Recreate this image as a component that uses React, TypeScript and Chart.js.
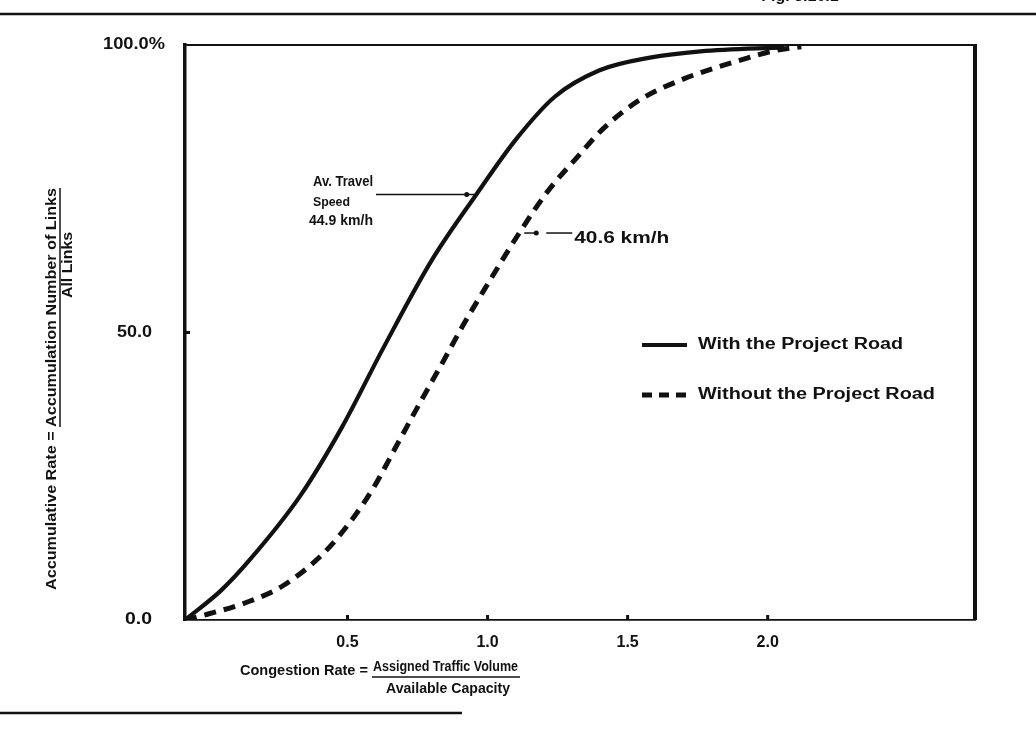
import React, { useEffect, useRef } from "react";
import { Chart, registerables } from "chart.js";

Chart.register(...registerables);

// ---- data ----
const withRoadX = [-0.08, 0.05, 0.15, 0.33, 0.48, 0.63, 0.8, 0.96, 1.1, 1.24, 1.4, 1.58, 1.76, 2.06];
const withRoadY = [0, 5.2, 10.4, 21.5, 33.5, 47.5, 62.5, 74, 83.5, 91, 95.6, 97.8, 98.9, 99.6];

const withoutRoadX = [-0.08, 0.0, 0.136, 0.271, 0.414, 0.509, 0.593, 0.675, 0.759, 0.842, 0.912, 0.999, 1.117, 1.214, 1.322, 1.414, 1.545, 1.7, 1.878, 2.023, 2.12];
const withoutRoadY = [0, 1.0, 3.0, 6.0, 11.6, 17.0, 23.0, 30.3, 37.8, 45.0, 51.2, 58.3, 67.6, 74.5, 80.6, 85.5, 90.5, 94.1, 97.0, 99.0, 99.7];

const seriesNames = ["With the Project Road", "Without the Project Road"];

const xMin = -0.08;
const xMax = 2.74;
const xTickValues = [0.5, 1.0, 1.5, 2.0];
const xTickLabels = ["0.5", "1.0", "1.5", "2.0"];
const yTickValues = [0, 50, 100];
const yTickLabels = ["0.0", "50.0", "100.0%"];

const speedCaption = ["Av. Travel", "Speed"];
const speedLabels = ["44.9 km/h", "40.6 km/h"];
const speedAnchorX = [0.965, 1.131];
const speedAnchorY = [74, 67.3];

const yTitleLeft = "Accumulative Rate = ";
const yTitleNum = "Accumulation Number of Links";
const yTitleDen = "All Links";
const xTitleLeft = "Congestion Rate = ";
const xTitleNum = "Assigned Traffic Volume";
const xTitleDen = "Available Capacity";
const figCaption = "Fig. 3.10.1";

const INK = "#111";
const FONT = '"Liberation Sans", Arial, "DejaVu Sans", sans-serif';

function setFont(ctx: CanvasRenderingContext2D, size: number, weight = "bold") {
  ctx.font = `${weight} ${size}px ${FONT}`;
}

function drawText(
  ctx: CanvasRenderingContext2D,
  text: string,
  x: number,
  y: number,
  size: number,
  align: "left" | "center" | "right",
  targetW?: number
) {
  ctx.save();
  setFont(ctx, size);
  ctx.textBaseline = "middle";
  ctx.textAlign = "left";
  const w = ctx.measureText(text).width;
  const sx = targetW ? targetW / w : 1;
  const left = align === "left" ? x : align === "center" ? x - (w * sx) / 2 : x - w * sx;
  ctx.translate(left, y);
  ctx.scale(sx, 1);
  ctx.fillStyle = INK;
  ctx.fillText(text, 0, 0);
  ctx.restore();
  return { left, width: w * sx };
}

function line(ctx: CanvasRenderingContext2D, x1: number, y1: number, x2: number, y2: number, w: number, dash: number[] = []) {
  ctx.save();
  ctx.strokeStyle = INK;
  ctx.lineWidth = w;
  ctx.setLineDash(dash);
  ctx.beginPath();
  ctx.moveTo(x1, y1);
  ctx.lineTo(x2, y2);
  ctx.stroke();
  ctx.restore();
}

function dot(ctx: CanvasRenderingContext2D, x: number, y: number, r: number) {
  ctx.save();
  ctx.fillStyle = INK;
  ctx.beginPath();
  ctx.arc(x, y, r, 0, Math.PI * 2);
  ctx.fill();
  ctx.restore();
}

const decorPlugin = {
  id: "decor",
  afterDraw(chart: any) {
    const ctx: CanvasRenderingContext2D = chart.ctx;
    const area = chart.chartArea;
    const sx = chart.scales.x;
    const sy = chart.scales.y;

    // header / footer rules of the scanned page
    line(ctx, 0, 14, 1036, 14, 2.6);
    drawText(ctx, figCaption, 800, -3, 16, "center");
    line(ctx, 0, 713, 462, 713, 2.6);

    // frame: top and right
    line(ctx, area.left, area.top, area.right + 2, area.top, 1.8);
    line(ctx, area.right, area.top, area.right, area.bottom, 4);

    // inner tick marks
    xTickValues.forEach((v) => {
      const px = sx.getPixelForValue(v);
      line(ctx, px, area.bottom, px, area.bottom - 5, 3);
    });
    yTickValues.forEach((v) => {
      if (v === 0 || v === 100) return;
      const py = sy.getPixelForValue(v);
      line(ctx, area.left, py, area.left + 5, py, 3);
    });

    // y tick labels
    yTickValues.forEach((v, i) => {
      const py = sy.getPixelForValue(v);
      if (i === yTickValues.length - 1) {
        drawText(ctx, yTickLabels[i], 103, py, 16, "left", 62);
      } else if (i === 0) {
        drawText(ctx, yTickLabels[i], 152, py, 16, "right", 27);
      } else {
        drawText(ctx, yTickLabels[i], 152, py, 16, "right", 35);
      }
    });

    // y title (rotated fraction)
    ctx.save();
    ctx.translate(52, 389);
    ctx.rotate(-Math.PI / 2);
    setFont(ctx, 14);
    const full = yTitleLeft + yTitleNum;
    const fw = ctx.measureText(full).width;
    const pw = ctx.measureText(yTitleLeft).width;
    const target = 402;
    const k = target / fw;
    drawText(ctx, full, 0, 0, 14, "center", target);
    line(ctx, -target / 2 + pw * k, 8, target / 2, 8, 1.5);
    ctx.restore();
    ctx.save();
    ctx.translate(68, 265);
    ctx.rotate(-Math.PI / 2);
    drawText(ctx, yTitleDen, 0, 0, 14, "center", 66);
    ctx.restore();

    // x title (fraction)
    drawText(ctx, xTitleLeft, 240, 671, 14, "left", 132);
    const num = drawText(ctx, xTitleNum, 373, 667, 14, "left", 145);
    line(ctx, num.left - 1, 677, num.left + num.width + 2, 677, 1.5);
    drawText(ctx, xTitleDen, 386, 689, 14, "left", 124);

    // legend
    line(ctx, 642, 345, 687, 345, 4);
    drawText(ctx, seriesNames[0], 698, 345, 16, "left", 205);
    line(ctx, 642, 395, 690, 395, 5, [10, 7]);
    drawText(ctx, seriesNames[1], 698, 395, 16, "left", 237);

    // speed annotations
    const a0x = sx.getPixelForValue(speedAnchorX[0]);
    const a0y = sy.getPixelForValue(speedAnchorY[0]);
    drawText(ctx, speedCaption[0], 313, a0y - 12, 14, "left", 60);
    drawText(ctx, speedCaption[1], 313, a0y + 8, 13, "left", 37);
    drawText(ctx, speedLabels[0], 309, a0y + 27, 14, "left", 64);
    line(ctx, 376, a0y, a0x, a0y, 1.5);
    dot(ctx, a0x - 11, a0y, 2.5);

    const a1x = sx.getPixelForValue(speedAnchorX[1]);
    const a1y = sy.getPixelForValue(speedAnchorY[1]);
    line(ctx, a1x, a1y, a1x + 13, a1y, 1.5);
    dot(ctx, a1x + 12, a1y, 2.5);
    line(ctx, a1x + 22, a1y, a1x + 48, a1y, 1.5);
    drawText(ctx, speedLabels[1], a1x + 50, a1y + 6, 16, "left", 95);
  },
};

export default function App() {
  const ref = useRef<HTMLCanvasElement | null>(null);

  useEffect(() => {
    if (!ref.current) return;
    const chart = new Chart(ref.current, {
      type: "line",
      data: {
        datasets: [
          {
            label: seriesNames[0],
            data: withRoadX.map((x, i) => ({ x, y: withRoadY[i] })),
            borderColor: INK,
            borderWidth: 4.2,
            pointRadius: 0,
            fill: false,
            cubicInterpolationMode: "monotone",
          },
          {
            label: seriesNames[1],
            data: withoutRoadX.map((x, i) => ({ x, y: withoutRoadY[i] })),
            borderColor: INK,
            borderWidth: 5,
            borderDash: [12, 8],
            pointRadius: 0,
            fill: false,
            cubicInterpolationMode: "monotone",
          },
        ],
      },
      options: {
        responsive: false,
        animation: false,
        devicePixelRatio: 1,
        layout: { padding: { left: 0, top: 45, right: 61, bottom: 0 } },
        plugins: { legend: { display: false }, tooltip: { enabled: false }, title: { display: false } },
        scales: {
          x: {
            type: "linear",
            min: xMin,
            max: xMax,
            afterBuildTicks: (s: any) => {
              s.ticks = xTickValues.map((v) => ({ value: v }));
            },
            afterFit: (s: any) => {
              s.height = 125;
            },
            ticks: {
              autoSkip: false,
              maxRotation: 0,
              padding: 13,
              color: INK,
              font: { family: FONT, weight: "bold", size: 16 },
              callback: (v: any) => {
                const i = xTickValues.indexOf(Number(v));
                return i >= 0 ? xTickLabels[i] : "";
              },
            },
            grid: { display: false, drawTicks: false },
            border: { display: true, color: INK, width: 1.8 },
          },
          y: {
            type: "linear",
            min: 0,
            max: 100,
            afterBuildTicks: (s: any) => {
              s.ticks = yTickValues.map((v) => ({ value: v }));
            },
            afterFit: (s: any) => {
              s.width = 185;
            },
            ticks: { display: false },
            grid: { display: false, drawTicks: false },
            border: { display: true, color: INK, width: 3.5 },
          },
        },
      },
      plugins: [decorPlugin],
    } as any);
    return () => chart.destroy();
  }, []);

  return (
    <div style={{ position: "fixed", left: 0, top: 0, width: 1036, height: 745, background: "#fff" }}>
      <canvas ref={ref} width={1036} height={745} style={{ display: "block", width: 1036, height: 745 }} />
    </div>
  );
}
